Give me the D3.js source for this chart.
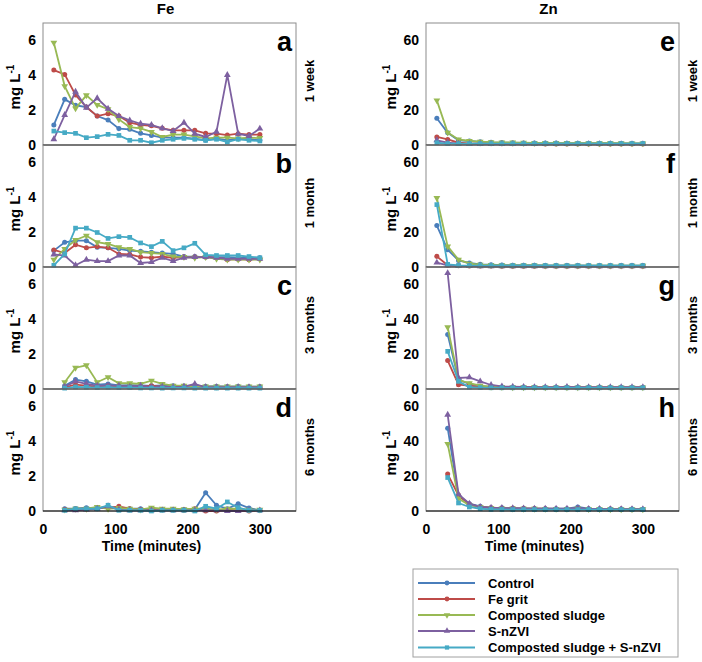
<!DOCTYPE html>
<html><head><meta charset="utf-8">
<script src="https://cdn.jsdelivr.net/npm/d3@7"></script>
<style>
body{margin:0;background:#fff;}
text{font-family:"Liberation Sans",Arial,sans-serif;font-weight:bold;fill:#000;}
</style></head>
<body><svg id="c" width="702" height="662"></svg>
<script>
// ---- data ----
const seriesNames = ["Control","Fe grit","Composted sludge","S-nZVI","Composted sludge + S-nZVI"];
const seriesColors = ["#4a7ebb","#be4b48","#98b954","#7d60a0","#46aac5"];
const seriesSymbols = ["circle","circle","triangleDown","triangleUp","square"];
const timesFrom15 = [15,30,45,60,75,90,105,120,135,150,165,180,195,210,225,240,255,270,285,300];
const timesFrom30 = [30,45,60,75,90,105,120,135,150,165,180,195,210,225,240,255,270,285,300];
const periodLabels = ["1 week","1 month","3 months","6 months"];
const feLetters = ["a","b","c","d"];
const znLetters = ["e","f","g","h"];
const feTicks = [0,2,4,6];
const znTicks = [0,20,40,60];
const xTicks = [0,100,200,300];

// Fe, mg/L
const fe1Week = [
 [1.15,2.62,2.28,2.18,1.66,1.43,0.94,0.9,0.67,0.55,0.42,0.42,0.42,0.36,0.27,0.38,0.27,0.36,0.33,0.27],
 [4.3,4.05,2.87,2.18,1.66,1.8,1.66,1.28,1.15,1.1,0.96,0.84,0.84,0.84,0.67,0.65,0.57,0.65,0.6,0.6],
 [5.87,3.38,2.1,2.85,2.3,2.05,1.47,1.03,0.95,0.75,0.46,0.6,0.6,0.5,0.38,0.42,0.42,0.38,0.42,0.4],
 [0.33,1.72,3.06,2.14,2.68,2.08,1.66,1.41,1.22,1.15,0.96,0.8,1.28,0.65,0.46,0.76,4.02,0.65,0.52,0.94],
 [0.8,0.71,0.67,0.42,0.48,0.61,0.55,0.27,0.27,0.13,0.27,0.33,0.38,0.33,0.27,0.33,0.17,0.33,0.27,0.23]
];
const fe1Month = [
 [0.94,1.42,1.51,1.51,1.13,1.1,1.04,0.94,0.9,0.85,0.8,0.75,0.6,0.6,0.57,0.57,0.57,0.53,0.53,0.53],
 [0.98,0.8,1.28,1.1,1.17,1.1,0.75,0.72,0.57,0.53,0.6,0.53,0.57,0.57,0.57,0.53,0.42,0.45,0.42,0.47],
 [0.42,1.04,1.55,1.8,1.42,1.32,1.13,1.04,0.85,0.8,0.75,0.6,0.57,0.53,0.57,0.47,0.42,0.42,0.42,0.42],
 [0.72,0.66,0.1,0.42,0.34,0.34,0.66,0.66,0.23,0.28,0.53,0.34,0.53,0.57,0.57,0.53,0.47,0.47,0.47,0.47],
 [0.1,0.75,2.23,2.23,1.98,1.64,1.74,1.7,1.38,1.17,1.47,0.94,1.1,1.36,0.7,0.66,0.66,0.66,0.6,0.53]
];
const fe3Months = [
 [0.19,0.54,0.44,0.25,0.29,0.2,0.22,0.2,0.18,0.2,0.19,0.17,0.18,0.15,0.16,0.14,0.15,0.13,0.14],
 [0.1,0.25,0.19,0.14,0.19,0.14,0.14,0.14,0.19,0.12,0.12,0.1,0.1,0.1,0.1,0.1,0.1,0.1,0.1],
 [0.39,1.22,1.36,0.39,0.68,0.33,0.33,0.29,0.48,0.29,0.19,0.19,0.15,0.15,0.14,0.15,0.14,0.14,0.14],
 [0.13,0.44,0.29,0.19,0.19,0.19,0.13,0.19,0.1,0.13,0.1,0.13,0.29,0.1,0.1,0.1,0.1,0.1,0.1],
 [0.05,0.12,0.1,0.08,0.1,0.08,0.08,0.06,0.06,0.05,0.06,0.06,0.05,0.05,0.05,0.05,0.05,0.05,0.05]
];
const fe6Months = [
 [0.13,0.13,0.19,0.13,0.23,0.19,0.13,0.13,0.08,0.08,0.08,0.08,0.08,1.05,0.33,0.13,0.42,0.17,0.04],
 [0.08,0.13,0.13,0.19,0.17,0.27,0.13,0.08,0.13,0.08,0.08,0.04,0.13,0.0,0.0,0.08,0.04,0.0,0.04],
 [0.08,0.13,0.13,0.23,0.13,0.17,0.13,0.08,0.19,0.13,0.13,0.1,0.13,0.13,0.08,0.13,0.13,0.08,0.08],
 [0.04,0.04,0.08,0.13,0.27,0.08,0.04,0.04,0.04,0.04,0.04,0.04,0.04,0.04,0.04,0.0,0.0,0.04,0.04],
 [0.04,0.13,0.13,0.13,0.33,0.04,0.04,0.04,0.0,0.04,0.04,0.04,0.0,0.27,0.13,0.52,0.19,0.04,0.04]
];
// Zn, mg/L
const zn1Week = [
 [15.3,7.0,2.7,2.3,1.8,1.5,1.4,1.3,1.2,1.2,1.1,1.1,1.0,1.0,1.0,1.0,1.0,0.9,0.9,0.9],
 [4.6,3.2,1.3,0.9,0.8,0.8,0.7,0.7,0.7,0.7,0.6,0.6,0.6,0.6,0.6,0.6,0.6,0.6,0.6,0.6],
 [25.6,7.1,3.2,2.3,1.9,1.6,1.5,1.4,1.3,1.2,1.2,1.1,1.1,1.0,1.0,1.0,1.0,1.0,0.9,0.9],
 [2.7,1.3,0.8,0.6,0.6,0.5,0.5,0.5,0.5,0.5,0.5,0.5,0.5,0.5,0.5,0.5,0.5,0.5,0.5,0.5],
 [1.3,0.8,0.8,0.8,0.8,0.8,0.8,0.8,0.8,0.8,0.8,0.8,0.8,0.8,0.8,0.8,0.8,0.8,0.8,0.8]
];
const zn1Month = [
 [23.8,9.9,3.8,2.3,1.5,1.3,1.1,1.0,1.0,1.0,0.9,0.9,0.9,0.9,0.8,0.8,0.8,0.8,0.8,0.8],
 [6.1,1.0,0.7,0.6,0.6,0.6,0.5,0.5,0.5,0.5,0.5,0.5,0.5,0.5,0.5,0.5,0.5,0.5,0.5,0.5],
 [39.6,11.8,4.2,1.9,1.3,1.1,1.0,0.9,0.9,0.9,0.8,0.8,0.8,0.8,0.8,0.8,0.8,0.8,0.8,0.8],
 [2.5,1.0,0.5,0.5,0.4,0.4,0.4,0.4,0.4,0.4,0.4,0.4,0.4,0.4,0.4,0.4,0.4,0.4,0.4,0.4],
 [35.8,1.5,0.9,0.8,0.8,0.8,0.8,0.8,0.8,0.8,0.8,0.8,0.8,0.8,0.8,0.8,0.8,0.8,0.8,0.8]
];
const zn3Months = [
 [31.2,5.2,2.9,1.6,1.2,1.1,1.0,1.0,1.0,0.9,0.9,0.9,0.9,0.9,0.9,0.9,0.9,0.9,0.9],
 [16.3,2.5,1.9,1.2,1.0,0.9,0.8,0.8,0.8,0.8,0.8,0.8,0.8,0.8,0.8,0.8,0.8,0.8,0.8],
 [35.4,5.2,3.3,1.9,1.3,1.1,1.0,1.0,1.0,0.9,0.9,0.9,0.9,0.9,0.9,0.9,0.9,0.9,0.9],
 [66.5,6.3,6.7,4.4,2.3,1.5,1.3,1.2,1.1,1.1,1.0,1.2,1.0,1.0,1.0,1.0,1.0,1.0,1.0],
 [21.6,4.4,1.0,0.8,0.7,0.7,0.7,0.7,0.7,0.7,0.7,0.7,0.7,0.7,0.7,0.7,0.7,0.7,0.7]
];
const zn6Months = [
 [47.5,8.7,4.2,2.7,1.9,1.8,1.6,1.5,1.4,1.3,1.3,1.3,2.3,1.3,1.2,1.2,1.1,1.1,1.0],
 [21.2,9.0,3.8,2.3,1.9,1.6,1.5,1.4,1.3,1.3,1.2,1.2,1.4,1.2,1.1,1.1,1.1,1.0,1.0],
 [38.5,7.1,3.3,2.3,1.7,1.5,1.4,1.3,1.3,1.2,1.2,1.2,1.4,1.1,1.1,1.0,1.0,1.0,1.0],
 [55.2,9.6,4.2,2.3,1.9,1.7,1.6,1.5,1.4,1.4,1.3,1.3,1.6,1.2,1.2,1.1,1.1,1.1,1.0],
 [19.2,4.6,2.3,1.3,0.9,0.9,0.8,0.8,0.8,0.8,0.8,0.8,0.8,0.8,0.8,0.8,0.8,0.8,0.8]
];

// ---- layout ----
const svg = d3.select("#c");
const panelTop = 23, panelH = 122;
const columns = [
  {title:"Fe", x0:43, x1:296, yMax:7, ticks:feTicks, letters:feLetters, ylabX:20,
   data:[fe1Week,fe1Month,fe3Months,fe6Months], times:[timesFrom15,timesFrom15,timesFrom30,timesFrom30]},
  {title:"Zn", x0:426, x1:679, yMax:70, ticks:znTicks, letters:znLetters, ylabX:396,
   data:[zn1Week,zn1Month,zn3Months,zn6Months], times:[timesFrom15,timesFrom15,timesFrom30,timesFrom30]}
];
const symMap = {circle:d3.symbolCircle, square:d3.symbolSquare, triangleUp:d3.symbolTriangle, triangleDown:d3.symbolTriangle};

columns.forEach(col=>{
  const x = d3.scaleLinear().domain([0,350]).range([col.x0,col.x1]);
  svg.append("text").attr("x",(col.x0+col.x1)/2-4).attr("y",14).attr("text-anchor","middle")
     .style("font-size","15px").text(col.title);
  col.data.forEach((panel,pi)=>{
    const top = panelTop + pi*panelH, bot = top+panelH;
    const y = d3.scaleLinear().domain([0,col.yMax]).range([bot,top]);
    const g = svg.append("g");
    g.append("rect").attr("x",col.x0).attr("y",top).attr("width",col.x1-col.x0).attr("height",panelH)
     .attr("fill","none").attr("stroke","#8c8c8c").attr("stroke-width",1);
    // y axis
    const ya = g.append("g").attr("transform",`translate(${col.x0-7},0)`)
      .call(d3.axisLeft(y).tickValues(col.ticks).tickFormat(d3.format("d")).tickSize(0).tickPadding(0));
    ya.select(".domain").remove();
    ya.selectAll("text").style("font-size","14px").style("font-family","'Liberation Sans',Arial,sans-serif").style("font-weight","bold");
    // y label
    const yly = top+panelH/2+3;
    const yl = g.append("text").attr("transform",`translate(${col.ylabX},${yly}) rotate(-90)`)
      .attr("text-anchor","middle").style("font-size","15px");
    yl.append("tspan").text("mg L");
    yl.append("tspan").attr("dy","-6").style("font-size","10px").text("-1");
    // period label
    g.append("text").attr("transform",`translate(${col.x1+18},${top+panelH/2-3}) rotate(-90)`)
      .attr("text-anchor","middle").style("font-size","13px").text(periodLabels[pi]);
    // letter
    g.append("text").attr("x",col.x1-4).attr("y",top+28).attr("text-anchor","end")
      .style("font-size","27px").text(col.letters[pi]);
    // series
    const times = col.times[pi];
    panel.forEach((vals,si)=>{
      const pts = vals.map((v,i)=>[times[i],v]);
      g.append("path").datum(pts).attr("fill","none").attr("stroke",seriesColors[si]).attr("stroke-width",1.8)
        .attr("d",d3.line().x(d=>x(d[0])).y(d=>y(d[1])));
      const sym = d3.symbol().type(symMap[seriesSymbols[si]]).size(seriesSymbols[si]==="square"?22:20);
      g.selectAll(null).data(pts).enter().append("path")
        .attr("d",sym).attr("fill",seriesColors[si])
        .attr("transform",d=>`translate(${x(d[0])},${y(d[1])})${seriesSymbols[si]==="triangleDown"?" rotate(180)":""}`);
    });
    // bottom black line
    g.append("line").attr("x1",col.x0).attr("x2",col.x1).attr("y1",bot).attr("y2",bot)
      .attr("stroke","#000").attr("stroke-width",1.2);
    if(pi===3){
      const xa = g.append("g").attr("transform",`translate(0,${bot+8})`)
        .call(d3.axisBottom(x).tickValues(xTicks).tickSize(0).tickPadding(5));
      xa.select(".domain").remove();
      xa.selectAll("text").style("font-size","14px").style("font-family","'Liberation Sans',Arial,sans-serif").style("font-weight","bold");
      g.append("text").attr("x",x(150)).attr("y",bot+40).attr("text-anchor","middle")
        .style("font-size","14px").text("Time (minutes)");
    }
  });
});

// legend
const lg = svg.append("g");
lg.append("rect").attr("x",413).attr("y",569).attr("width",265).attr("height",88)
  .attr("fill","#fff").attr("stroke","#a0a0a0").attr("stroke-width",1);
const legendRows = [583,599,615,631,647.5];
seriesNames.forEach((n,i)=>{
  const yy = legendRows[i];
  lg.append("line").attr("x1",418).attr("x2",475).attr("y1",yy).attr("y2",yy)
    .attr("stroke",seriesColors[i]).attr("stroke-width",1.8);
  const sym = d3.symbol().type(symMap[seriesSymbols[i]]).size(18);
  lg.append("path").attr("d",sym).attr("fill",seriesColors[i])
    .attr("transform",`translate(447,${yy})${seriesSymbols[i]==="triangleDown"?" rotate(180)":""}`);
  lg.append("text").attr("x",488).attr("y",yy+4.5).style("font-size","13px").text(n);
});
</script></body></html>
